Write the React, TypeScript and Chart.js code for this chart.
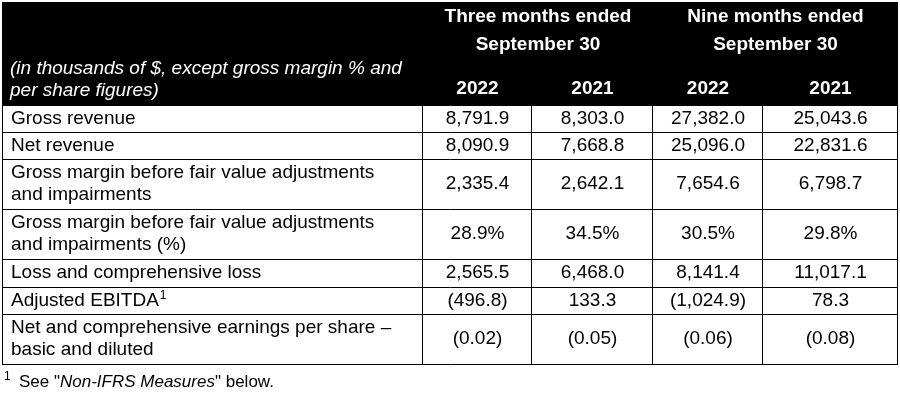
import React, { useEffect, useRef } from "react";
import { Chart, registerables } from "chart.js";

Chart.register(...registerables);

// ---------- data ----------
const groupHeaders = [
  ["Three months ended", "September 30"],
  ["Nine months ended", "September 30"],
];
const years = ["2022", "2021", "2022", "2021"];
const unitNote = ["(in thousands of $, except gross margin % and", "per share figures)"];
const rowLabels = [
  ["Gross revenue"],
  ["Net revenue"],
  ["Gross margin before fair value adjustments", "and impairments"],
  ["Gross margin before fair value adjustments", "and impairments (%)"],
  ["Loss and comprehensive loss"],
  ["Adjusted EBITDA"],
  ["Net and comprehensive earnings per share \u2013", "basic and diluted"],
];
const rowNoteMarks = ["", "", "", "", "", "1", ""];
const rowKinds = ["amt", "amt", "amt", "pct", "amt", "amt", "eps"];
const threeMonths2022 = [8791.9, 8090.9, 2335.4, 28.9, 2565.5, -496.8, -0.02];
const threeMonths2021 = [8303.0, 7668.8, 2642.1, 34.5, 6468.0, 133.3, -0.05];
const nineMonths2022 = [27382.0, 25096.0, 7654.6, 30.5, 8141.4, -1024.9, -0.06];
const nineMonths2021 = [25043.6, 22831.6, 6798.7, 29.8, 11017.1, 78.3, -0.08];
const valueColumns = [threeMonths2022, threeMonths2021, nineMonths2022, nineMonths2021];
const footnote = { mark: "1", before: "See \"", italic: "Non-IFRS Measures", after: "\" below." };

// ---------- layout (table units = px inside chart area) ----------
const colEdges = [0, 420, 529, 650, 760, 895];
const headerBottom = 103;
const rowEdges = [103, 130, 157, 207, 257, 285, 312, 362];
const FONT = "'Liberation Sans', Arial, sans-serif";
const LINE_GAP = 22;

function fmt(v: number, kind: string): string {
  const d = kind === "eps" ? 2 : 1;
  let s = Math.abs(v).toLocaleString("en-US", { minimumFractionDigits: d, maximumFractionDigits: d });
  if (kind === "pct") s += "%";
  return v < 0 ? `(${s})` : s;
}

const colCenter = (c: number) => (colEdges[c] + colEdges[c + 1]) / 2;
const rowCenter = (r: number) => (rowEdges[r] + rowEdges[r + 1]) / 2;

const tablePlugin = {
  id: "tablePlugin",
  beforeDatasetsDraw(chart: any) {
    const { ctx } = chart;
    const x = chart.scales.x;
    const y = chart.scales.y;
    const x0 = x.getPixelForValue(colEdges[0]);
    const x1 = x.getPixelForValue(colEdges[colEdges.length - 1]);
    const y0 = y.getPixelForValue(0);
    const yh = y.getPixelForValue(headerBottom);
    ctx.save();
    ctx.fillStyle = "#000000";
    ctx.fillRect(x0 - 1, y0, x1 - x0 + 1, yh - y0);

    // header texts
    ctx.fillStyle = "#ffffff";
    ctx.textBaseline = "middle";
    ctx.textAlign = "center";
    ctx.font = `bold 19px ${FONT}`;
    groupHeaders.forEach((lines, g) => {
      const cx = x.getPixelForValue((colEdges[1 + g * 2] + colEdges[3 + g * 2]) / 2);
      lines.forEach((t, i) => ctx.fillText(t, cx, y.getPixelForValue(15 + i * 28)));
    });
    years.forEach((t, c) => {
      ctx.fillText(t, x.getPixelForValue(colCenter(c + 1)), y.getPixelForValue(87));
    });
    ctx.textAlign = "left";
    ctx.font = `italic 19px ${FONT}`;
    unitNote.forEach((t, i) => {
      ctx.fillText(t, x.getPixelForValue(7), y.getPixelForValue(67 + i * LINE_GAP));
    });

    // grid lines
    ctx.strokeStyle = "#000000";
    ctx.lineWidth = 1;
    ctx.beginPath();
    rowEdges.forEach((r) => {
      const py = Math.round(y.getPixelForValue(r)) + 0.5;
      ctx.moveTo(x0, py);
      ctx.lineTo(x1, py);
    });
    colEdges.forEach((c) => {
      const px = Math.round(x.getPixelForValue(c)) - 0.5;
      ctx.moveTo(px, y.getPixelForValue(rowEdges[0]));
      ctx.lineTo(px, Math.round(y.getPixelForValue(rowEdges[rowEdges.length - 1])) + 1);
    });
    ctx.stroke();

    // row labels
    ctx.fillStyle = "#000000";
    ctx.textAlign = "left";
    rowLabels.forEach((lines, r) => {
      const cy = rowCenter(r);
      lines.forEach((t, i) => {
        const ly = y.getPixelForValue(cy + (i - (lines.length - 1) / 2) * LINE_GAP);
        const lx = x.getPixelForValue(8);
        ctx.font = `19px ${FONT}`;
        ctx.fillText(t, lx, ly);
        if (rowNoteMarks[r] && i === lines.length - 1) {
          const w = ctx.measureText(t).width;
          ctx.font = `12px ${FONT}`;
          ctx.fillText(rowNoteMarks[r], lx + w + 1, ly - 5);
        }
      });
    });

    // footnote
    const fy = 382;
    ctx.font = `12px ${FONT}`;
    ctx.fillText(footnote.mark, 4, fy - 5);
    let fx = 19;
    ctx.font = `17px ${FONT}`;
    ctx.fillText(footnote.before, fx, fy);
    fx += ctx.measureText(footnote.before).width;
    ctx.font = `italic 17px ${FONT}`;
    ctx.fillText(footnote.italic, fx, fy);
    fx += ctx.measureText(footnote.italic).width;
    ctx.font = `17px ${FONT}`;
    ctx.fillText(footnote.after, fx, fy);
    ctx.restore();
  },
  afterDatasetsDraw(chart: any) {
    const { ctx } = chart;
    ctx.save();
    ctx.fillStyle = "#000000";
    ctx.font = `19px ${FONT}`;
    ctx.textAlign = "center";
    ctx.textBaseline = "middle";
    chart.data.datasets.forEach((ds: any, di: number) => {
      const meta = chart.getDatasetMeta(di);
      meta.data.forEach((el: any, i: number) => {
        ctx.fillText(fmt(valueColumns[di][i], rowKinds[i]), el.x, el.y);
      });
    });
    ctx.restore();
  },
};

export default function App() {
  const ref = useRef<HTMLCanvasElement | null>(null);
  useEffect(() => {
    if (!ref.current) return;
    const chart = new Chart(ref.current, {
      type: "scatter",
      data: {
        datasets: valueColumns.map((vals, c) => ({
          label: years[c],
          data: vals.map((_, r) => ({ x: colCenter(c + 1), y: rowCenter(r) })),
          pointRadius: 0,
          pointHoverRadius: 0,
        })),
      },
      options: {
        animation: false,
        responsive: false,
        events: [],
        layout: { padding: { left: 3, right: 2, top: 2, bottom: 36 } },
        scales: {
          x: { type: "linear", min: 0, max: 895, display: false },
          y: { type: "linear", min: 0, max: 362, reverse: true, display: false },
        },
        plugins: { legend: { display: false }, tooltip: { enabled: false } },
      },
      plugins: [tablePlugin],
    });
    return () => chart.destroy();
  }, []);
  return (
    <div style={{ position: "absolute", left: 0, top: 0, width: 900, height: 400, background: "#fff" }}>
      <canvas ref={ref} width={900} height={400} style={{ display: "block" }} />
    </div>
  );
}
